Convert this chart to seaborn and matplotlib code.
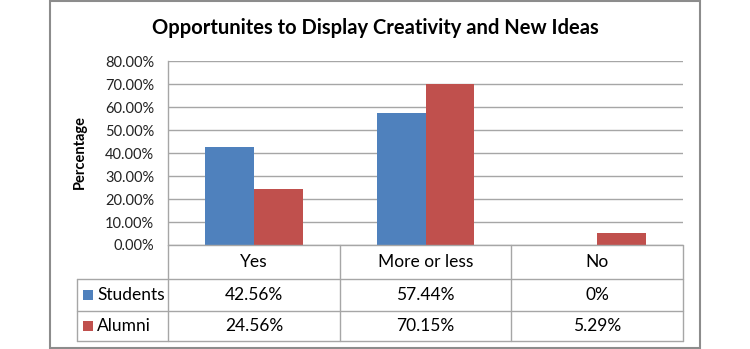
import matplotlib
matplotlib.use("Agg")
import matplotlib.pyplot as plt
import seaborn as sns
import pandas as pd
from matplotlib.lines import Line2D
from matplotlib.patches import Rectangle

categories = ["Yes", "More or less", "No"]
series_names = ["Students", "Alumni"]
students = [42.56, 57.44, 0.0]
alumni = [24.56, 70.15, 5.29]
students_labels = ["42.56%", "57.44%", "0%"]
alumni_labels = ["24.56%", "70.15%", "5.29%"]
yticks = [0, 10, 20, 30, 40, 50, 60, 70, 80]
title = "Opportunites to Display Creativity and New Ideas"
ylabel = "Percentage"
colors = ["#4F81BD", "#C0504D"]

sns.set_theme(style="white")
plt.rcParams["font.family"] = ["Lato", "DejaVu Sans"]

W, H = 750, 349
fig = plt.figure(figsize=(W / 100, H / 100), dpi=100)

def fx(x):
    return x / W

def fy(y):
    return 1 - y / H

# plot area in pixel coordinates
L, R, T, B = 168, 683, 61, 245
ax = fig.add_axes([fx(L), fy(B), fx(R - L), (B - T) / H])

df = pd.DataFrame({
    "category": categories * 2,
    "series": [series_names[0]] * 3 + [series_names[1]] * 3,
    "value": students + alumni,
})
sns.barplot(data=df, x="category", y="value", hue="series", order=categories,
            hue_order=series_names, palette=colors, width=0.57, ax=ax,
            legend=False, saturation=1, edgecolor="none")

ax.set_ylim(0, 80)
ax.set_xlim(-0.5, 2.5)
ax.set_yticks(yticks)
ax.set_yticklabels([f"{v:.2f}%" for v in yticks], fontsize=10.5, color="#222222")
ax.tick_params(axis="y", length=0, pad=10)
ax.set_xticks([])
ax.set_xlabel("")
ax.set_ylabel("")
ax.yaxis.grid(True, color="#A6A6A6", linewidth=1)
ax.set_axisbelow(True)
for s in ["top", "right", "bottom"]:
    ax.spines[s].set_visible(False)
ax.spines["left"].set_color("#A6A6A6")
ax.spines["left"].set_linewidth(1)

# outer chart border
fig.patches.append(Rectangle((fx(50), fy(348)), fx(650), (347) / H,
                             transform=fig.transFigure, fill=False,
                             edgecolor="#8C8C8C", linewidth=1.5))

fig.text(fx(375), fy(28), title, ha="center", va="center",
         fontsize=14.5, fontweight="bold", color="black")
fig.text(fx(80), fy(152), ylabel, ha="center", va="center", rotation=90,
         fontsize=10.5, fontweight="bold", color="black")

# data table
col_edges = [L, 340, 511, R]
row_edges = [B, 279, 311, 341]
lc = "#A6A6A6"

def hline(y, x0, x1):
    fig.add_artist(Line2D([fx(x0), fx(x1)], [fy(y), fy(y)], color=lc, linewidth=1,
                          transform=fig.transFigure))

def vline(x, y0, y1):
    fig.add_artist(Line2D([fx(x), fx(x)], [fy(y0), fy(y1)], color=lc, linewidth=1,
                          transform=fig.transFigure))

hline(B, L, R)
for y in row_edges[1:]:
    hline(y, 77, R)
vline(77, row_edges[1], row_edges[3])
vline(L, B, row_edges[3])
for x in col_edges[1:]:
    vline(x, B, row_edges[3])

fs = 12.5
for i, cat in enumerate(categories):
    cx = (col_edges[i] + col_edges[i + 1]) / 2
    fig.text(fx(cx), fy((row_edges[0] + row_edges[1]) / 2), cat,
             ha="center", va="center", fontsize=fs, color="black")
    fig.text(fx(cx), fy((row_edges[1] + row_edges[2]) / 2), students_labels[i],
             ha="center", va="center", fontsize=fs, color="black")
    fig.text(fx(cx), fy((row_edges[2] + row_edges[3]) / 2), alumni_labels[i],
             ha="center", va="center", fontsize=fs, color="black")

for j, name in enumerate(series_names):
    cy = (row_edges[j + 1] + row_edges[j + 2]) / 2
    fig.patches.append(Rectangle((fx(83), fy(cy + 5)), fx(10), 10 / H,
                                 transform=fig.transFigure, facecolor=colors[j],
                                 edgecolor="none"))
    fig.text(fx(97), fy(cy), name, ha="left", va="center", fontsize=fs, color="black")

fig.savefig("out.png", dpi=100)
